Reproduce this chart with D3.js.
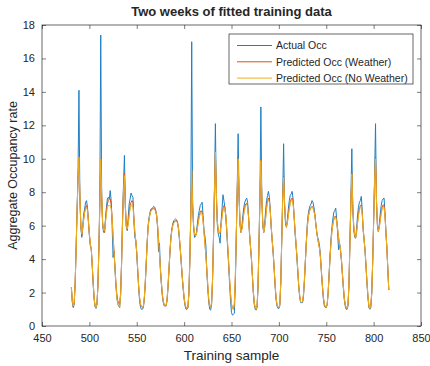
<!DOCTYPE html>
<html lang="en">
<head>
  <meta charset="UTF-8">
  <title>Two weeks of fitted training data</title>
  <script src="https://d3js.org/d3.v7.min.js"></script>
  <style>
    body { margin: 0; background: #fff; }
    text { font-family: "Liberation Sans", Arial, sans-serif; fill: #262626; }
    .line { fill: none; stroke-width: 1; stroke-linejoin: round; }
  </style>
</head>
<body>
<svg id="chart" width="430" height="366"></svg>

<script>
// training samples 481..816 (one per hour, two weeks)
const firstSample = 481;

const actualOcc = [
  2.3, 1.4, 1.1, 1.3, 2.5, 4.7, 6.9, 9.0, 14.1, 7.6, 5.9, 5.3, 6.0, 6.7, 7.0, 7.4, 7.5, 7.1, 6.2, 5.4, 4.8, 4.6, 3.6, 2.5, 1.6, 1.15,
  1.05, 1.3, 2.4, 4.6, 7.4, 17.4, 7.6, 6.0, 5.6, 5.6, 6.4, 7.1, 7.6, 7.7, 7.6, 8.1, 7.5, 6.0, 4.1, 4.5, 3.4, 2.4, 1.7, 1.3,
  1.2, 1.1, 1.9, 3.8, 6.4, 8.4, 10.2, 7.0, 5.9, 5.7, 6.5, 7.3, 7.6, 7.95, 7.8, 7.7, 6.2, 5.3, 5.1, 4.3, 3.3, 2.3, 1.5, 1.1, 1.0,
  1.0, 1.1, 1.6, 2.5, 3.7, 5.0, 6.0, 6.5, 6.8, 7.0, 7.0, 7.1, 7.15, 7.1, 6.9, 6.6, 5.9, 4.45, 4.95, 3.3, 2.5, 1.8, 1.4, 1.2,
  1.2, 1.2, 1.5, 2.3, 3.3, 4.4, 5.3, 5.8, 6.1, 6.3, 6.35, 6.4, 6.35, 6.2, 5.8, 5.2, 4.5, 3.7, 2.9, 2.2, 1.6, 1.2, 1.0, 1.0,
  1.1, 2.0, 3.9, 6.7, 17.0, 7.1, 5.9, 5.3, 5.35, 5.6, 6.1, 6.6, 6.9, 7.2, 7.3, 7.4, 6.6, 5.7, 5.35, 4.8, 3.2, 2.2, 1.4, 1.0,
  0.95, 1.3, 2.7, 5.3, 8.2, 12.1, 7.8, 6.1, 5.5, 5.3, 4.95, 6.2, 7.0, 7.85, 7.5, 7.1, 6.5, 5.6, 4.6, 3.6, 2.5, 1.5, 0.8, 0.65,
  0.7, 0.75, 2.4, 5.2, 8.1, 11.5, 7.6, 6.0, 5.6, 6.0, 6.6, 7.1, 7.4, 7.55, 7.65, 7.4, 6.6, 5.5, 4.75, 4.0, 3.0, 2.0, 1.3, 1.0,
  0.95, 1.1, 2.3, 4.9, 7.8, 13.1, 7.6, 6.0, 5.6, 6.1, 6.9, 7.5, 7.8, 8.05, 7.7, 6.8, 5.8, 5.05, 4.3, 3.4, 2.4, 1.6, 1.2, 1.05,
  1.05, 1.2, 2.5, 5.1, 7.7, 10.9, 7.2, 6.1, 5.9, 6.4, 7.0, 7.5, 7.8, 7.9, 8.05, 7.6, 6.6, 5.6, 4.9, 4.1, 3.2, 2.3, 1.7, 1.4,
  1.4, 1.4, 1.8, 2.7, 3.9, 5.1, 6.1, 6.7, 7.0, 7.2, 7.3, 7.5, 7.4, 7.1, 6.7, 6.1, 5.6, 5.3, 5.1, 4.75, 4.1, 3.1, 2.3, 1.6, 1.2, 1.1,
  1.1, 1.3, 2.0, 3.1, 4.2, 5.2, 5.9, 6.4, 6.8, 6.9, 7.05, 6.4, 5.6, 4.55, 5.0, 4.5, 3.9, 3.1, 2.3, 1.6, 1.2, 1.0,
  1.0, 1.2, 2.5, 5.1, 7.6, 10.6, 7.0, 5.8, 5.3, 5.25, 5.8, 6.6, 7.1, 7.4, 7.5, 7.75, 6.9, 5.7, 5.1, 4.4, 3.5, 2.5, 1.7, 1.1,
  1.0, 1.1, 1.9, 3.8, 6.3, 8.8, 12.1, 7.4, 6.0, 5.65, 6.1, 6.7, 7.2, 7.5, 7.6, 7.65, 6.8, 5.6, 4.65, 3.4, 2.15
];

const predWeather = [
  2.3, 1.5, 1.15, 1.4, 2.6, 4.6, 6.8, 8.8, 10.1, 7.8, 6.0, 5.4, 5.8, 6.4, 6.8, 7.1, 7.2, 7.0, 6.3, 5.5, 4.9, 4.6, 3.7, 2.6, 1.7, 1.2,
  1.1, 1.3, 2.4, 4.5, 7.2, 10.0, 7.8, 6.2, 5.7, 5.6, 6.3, 6.9, 7.3, 7.5, 7.6, 7.6, 7.3, 6.5, 5.4, 4.5, 3.6, 2.6, 1.9, 1.5,
  1.35, 1.3, 2.0, 3.8, 6.3, 8.2, 9.1, 7.2, 6.0, 5.8, 6.2, 6.8, 7.2, 7.4, 7.5, 7.4, 6.5, 5.6, 5.1, 4.4, 3.4, 2.4, 1.7, 1.3, 1.15,
  1.1, 1.2, 1.7, 2.6, 3.8, 5.0, 5.9, 6.4, 6.7, 6.9, 7.0, 7.0, 7.05, 7.0, 6.9, 6.6, 6.0, 5.2, 4.3, 3.4, 2.6, 1.9, 1.5, 1.25,
  1.2, 1.25, 1.6, 2.4, 3.4, 4.4, 5.2, 5.7, 6.0, 6.2, 6.25, 6.3, 6.3, 6.2, 5.9, 5.3, 4.6, 3.8, 3.0, 2.3, 1.7, 1.3, 1.1, 1.05,
  1.1, 1.9, 3.8, 6.5, 9.2, 7.3, 6.0, 5.5, 5.4, 5.5, 5.9, 6.3, 6.6, 6.8, 6.9, 6.8, 6.3, 5.6, 4.9, 4.2, 3.3, 2.4, 1.6, 1.15,
  1.1, 1.4, 2.8, 5.2, 8.0, 10.3, 8.0, 6.3, 5.7, 5.5, 5.6, 6.1, 6.6, 7.0, 7.2, 7.1, 6.6, 5.8, 4.8, 3.8, 2.8, 1.9, 1.3, 1.05,
  1.0, 1.3, 2.8, 5.3, 8.0, 10.0, 7.8, 6.2, 5.6, 5.8, 6.3, 6.8, 7.1, 7.3, 7.35, 7.2, 6.5, 5.6, 4.8, 4.1, 3.1, 2.1, 1.4, 1.1,
  1.0, 1.2, 2.4, 4.8, 7.6, 9.95, 7.8, 6.2, 5.6, 5.9, 6.5, 7.1, 7.5, 7.65, 7.5, 6.8, 5.9, 5.1, 4.4, 3.5, 2.5, 1.7, 1.3, 1.1,
  1.1, 1.3, 2.6, 5.0, 7.5, 8.95, 7.4, 6.3, 5.95, 6.2, 6.7, 7.1, 7.4, 7.6, 7.65, 7.4, 6.7, 5.8, 5.0, 4.2, 3.3, 2.4, 1.8, 1.45,
  1.4, 1.45, 1.9, 2.8, 3.9, 5.0, 5.9, 6.5, 6.8, 7.0, 7.1, 7.15, 7.1, 6.9, 6.6, 6.1, 5.6, 5.2, 4.9, 4.6, 4.0, 3.2, 2.4, 1.7, 1.3, 1.15,
  1.1, 1.3, 2.0, 3.0, 4.1, 5.0, 5.7, 6.1, 6.4, 6.55, 6.55, 6.3, 5.8, 5.3, 4.9, 4.6, 4.0, 3.2, 2.4, 1.7, 1.3, 1.1,
  1.05, 1.3, 2.6, 5.0, 7.4, 9.15, 7.2, 6.0, 5.4, 5.3, 5.6, 6.2, 6.7, 7.0, 7.2, 7.25, 6.7, 5.8, 5.15, 4.5, 3.6, 2.6, 1.8, 1.2,
  1.05, 1.2, 2.0, 3.8, 6.2, 8.6, 10.1, 7.6, 6.1, 5.65, 5.9, 6.4, 6.8, 7.1, 7.25, 7.2, 6.6, 5.6, 4.65, 3.4, 2.15
];

const predNoWeather = [
  2.3, 1.5, 1.2, 1.4, 2.6, 4.6, 6.8, 8.8, 10.1, 7.7, 6.0, 5.5, 5.9, 6.4, 6.8, 7.0, 7.1, 6.9, 6.3, 5.5, 4.9, 4.6, 3.7, 2.6, 1.7, 1.2,
  1.1, 1.3, 2.4, 4.5, 7.2, 10.0, 7.8, 6.2, 5.7, 5.7, 6.2, 6.7, 7.1, 7.2, 7.2, 7.2, 7.0, 6.4, 5.3, 4.4, 3.5, 2.5, 1.7, 1.3,
  1.15, 1.15, 1.9, 3.7, 6.1, 8.0, 9.0, 7.1, 6.0, 5.8, 6.1, 6.6, 7.0, 7.2, 7.25, 7.1, 6.4, 5.6, 5.1, 4.4, 3.4, 2.4, 1.7, 1.3, 1.15,
  1.1, 1.2, 1.7, 2.6, 3.8, 5.0, 5.9, 6.4, 6.7, 6.9, 6.95, 7.0, 7.0, 6.95, 6.85, 6.6, 6.0, 5.2, 4.3, 3.4, 2.6, 1.9, 1.5, 1.25,
  1.2, 1.25, 1.6, 2.4, 3.4, 4.4, 5.2, 5.7, 6.0, 6.15, 6.2, 6.25, 6.25, 6.15, 5.9, 5.3, 4.6, 3.8, 3.0, 2.3, 1.7, 1.3, 1.1, 1.05,
  1.1, 1.9, 3.8, 6.5, 9.3, 7.2, 6.0, 5.5, 5.4, 5.5, 5.8, 6.2, 6.5, 6.7, 6.8, 6.7, 6.3, 5.6, 4.9, 4.2, 3.3, 2.4, 1.6, 1.15,
  1.1, 1.4, 2.8, 5.2, 8.0, 10.4, 8.0, 6.3, 5.7, 5.5, 5.6, 6.0, 6.5, 6.9, 7.1, 7.0, 6.6, 5.8, 4.8, 3.8, 2.8, 1.9, 1.3, 1.05,
  1.0, 1.3, 2.8, 5.3, 8.0, 10.0, 7.8, 6.2, 5.6, 5.8, 6.2, 6.7, 7.0, 7.2, 7.3, 7.1, 6.5, 5.6, 4.8, 4.1, 3.1, 2.1, 1.4, 1.1,
  1.0, 1.2, 2.4, 4.8, 7.6, 9.9, 7.8, 6.2, 5.6, 5.9, 6.4, 7.0, 7.4, 7.55, 7.4, 6.8, 5.9, 5.1, 4.4, 3.5, 2.5, 1.7, 1.3, 1.1,
  1.1, 1.3, 2.6, 5.0, 7.5, 8.9, 7.4, 6.3, 5.95, 6.2, 6.6, 7.0, 7.3, 7.5, 7.55, 7.3, 6.7, 5.8, 5.0, 4.2, 3.3, 2.4, 1.8, 1.45,
  1.4, 1.45, 1.9, 2.8, 3.9, 5.0, 5.9, 6.5, 6.8, 6.95, 7.05, 7.1, 7.05, 6.85, 6.6, 6.1, 5.6, 5.2, 4.9, 4.6, 4.0, 3.2, 2.4, 1.7, 1.3, 1.15,
  1.1, 1.3, 2.0, 3.0, 4.1, 5.0, 5.7, 6.1, 6.35, 6.5, 6.5, 6.25, 5.8, 5.3, 4.9, 4.6, 4.0, 3.2, 2.4, 1.7, 1.3, 1.1,
  1.05, 1.3, 2.6, 5.0, 7.4, 9.1, 7.2, 6.0, 5.4, 5.3, 5.6, 6.1, 6.6, 6.9, 7.1, 7.15, 6.7, 5.8, 5.15, 4.5, 3.6, 2.6, 1.8, 1.2,
  1.05, 1.2, 2.0, 3.8, 6.2, 8.6, 10.0, 7.6, 6.1, 5.65, 5.9, 6.3, 6.7, 7.0, 7.15, 7.1, 6.6, 5.6, 4.65, 3.4, 2.15
];

const seriesNames = ["Actual Occ", "Predicted Occ (Weather)", "Predicted Occ (No Weather)"];
const seriesColors = ["#1f7fc4", "#D95319", "#EDB120"];
const xTicks = [450, 500, 550, 600, 650, 700, 750, 800, 850];
const yTicks = [0, 2, 4, 6, 8, 10, 12, 14, 16, 18];

const svg = d3.select("#chart");
const margin = { left: 42, right: 9, top: 25, bottom: 40 };
const width = 430 - margin.left - margin.right,
      height = 366 - margin.top - margin.bottom;

const x = d3.scaleLinear().domain([450, 850]).range([0, width]);
const y = d3.scaleLinear().domain([0, 18]).range([height, 0]);

const g = svg.append("g").attr("transform", `translate(${margin.left},${margin.top})`);

// lines
const line = d3.line()
    .x((d, i) => x(firstSample + i))
    .y(d => y(d));

[actualOcc, predWeather, predNoWeather].forEach((vals, k) => {
  g.append("path")
      .datum(vals)
      .attr("class", "line")
      .attr("stroke", seriesColors[k])
      .attr("d", line);
});

// axes, MATLAB style: ticks inside, box on
const axisColor = "#262626";
function styleAxis(sel, hideText) {
  sel.select(".domain").remove();
  sel.selectAll(".tick line").attr("stroke", axisColor).attr("stroke-width", 0.6);
  sel.selectAll(".tick text").style("font-size", "11px").attr("fill", "#404040");
  if (hideText) sel.selectAll(".tick text").remove();
}

g.append("g")
    .attr("transform", `translate(0,${height})`)
    .call(d3.axisBottom(x).tickValues(xTicks).tickSize(-4).tickPadding(8))
    .call(s => styleAxis(s, false));
g.append("g")
    .call(d3.axisTop(x).tickValues(xTicks).tickSize(-4))
    .call(s => styleAxis(s, true));
g.append("g")
    .call(d3.axisLeft(y).tickValues(yTicks).tickSize(-4).tickPadding(7))
    .call(s => styleAxis(s, false));
g.append("g")
    .attr("transform", `translate(${width},0)`)
    .call(d3.axisRight(y).tickValues(yTicks).tickSize(-4))
    .call(s => styleAxis(s, true));

g.append("rect")
    .attr("width", width).attr("height", height)
    .attr("fill", "none").attr("stroke", axisColor).attr("stroke-width", 0.7);

// title and labels
svg.append("text")
    .attr("x", margin.left + width / 2).attr("y", 16)
    .attr("text-anchor", "middle")
    .style("font-size", "13px").style("font-weight", "bold")
    .attr("fill", "#000")
    .text("Two weeks of fitted training data");

svg.append("text")
    .attr("x", margin.left + width / 2).attr("y", 360)
    .attr("text-anchor", "middle")
    .style("font-size", "13.5px")
    .attr("fill", "#404040")
    .text("Training sample");

svg.append("text")
    .attr("transform", `translate(17,${margin.top + height / 2}) rotate(-90)`)
    .attr("text-anchor", "middle")
    .style("font-size", "12.5px")
    .attr("fill", "#404040")
    .text("Aggregate Occupancy rate");

// legend
const legend = svg.append("g").attr("transform", "translate(229,34)");
legend.append("rect")
    .attr("width", 184).attr("height", 50)
    .attr("fill", "#fff").attr("stroke", axisColor).attr("stroke-width", 0.7);

seriesNames.forEach((name, i) => {
  const ly = 11.5 + i * 16.3;
  legend.append("line")
      .attr("x1", 8).attr("x2", 43)
      .attr("y1", ly).attr("y2", ly)
      .attr("stroke", seriesColors[i]).attr("stroke-width", 1);
  legend.append("text")
      .attr("x", 47).attr("y", ly + 3.8)
      .style("font-size", "10.5px")
      .attr("fill", "#000")
      .text(name);
});
</script>
</body>
</html>
